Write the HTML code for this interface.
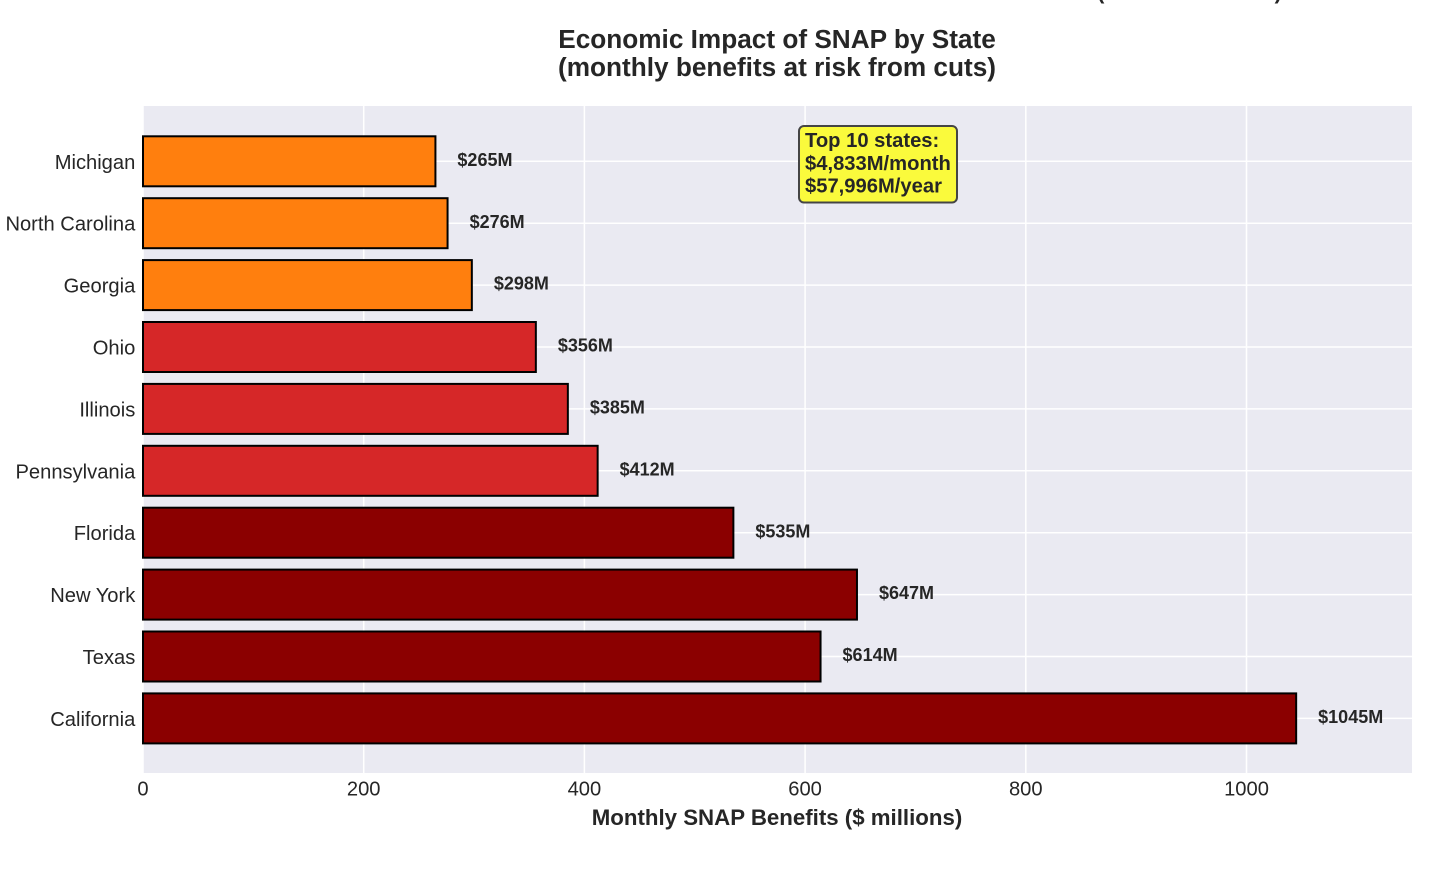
<!DOCTYPE html>
<html>
<head>
<meta charset="utf-8">
<style>
html,body{margin:0;padding:0;background:#fff;width:1456px;height:871px;overflow:hidden}
svg{display:block;font-family:"Liberation Sans",sans-serif}
</style>
</head>
<body>
<svg id="chart" width="1456" height="871" viewBox="0 0 1456 871" xmlns="http://www.w3.org/2000/svg">
<text x="1189.5" y="-1" text-anchor="middle" font-size="21.3" font-weight="bold" fill="#262626">(% of households)</text>
<text x="777" y="48" text-anchor="middle" font-size="26.2" font-weight="bold" fill="#262626">Economic Impact of SNAP by State</text>
<text x="777" y="76" text-anchor="middle" font-size="26.2" font-weight="bold" fill="#262626">(monthly benefits at risk from cuts)</text>
<rect x="143" y="106" width="1269" height="667" fill="#eaeaf2"/>
<g id="grid"></g>
<g id="bars"></g>
<g id="labels"></g>
<g id="ticks"></g>
<g>
<rect x="799" y="126" width="158" height="76.5" rx="5" ry="5" fill="#fafa3c" stroke="#454545" stroke-width="2"/>
<text x="805" y="147" font-size="20.2" font-weight="bold" fill="#262626">Top 10 states:</text>
<text x="805" y="170" font-size="20.2" font-weight="bold" fill="#262626">$4,833M/month</text>
<text x="805" y="192.5" font-size="20.2" font-weight="bold" fill="#262626">$57,996M/year</text>
</g>
<text x="777" y="825" text-anchor="middle" font-size="22.25" font-weight="bold" fill="#262626">Monthly SNAP Benefits ($ millions)</text>
</svg>
<script>
const states = ["California","Texas","New York","Florida","Pennsylvania","Illinois","Ohio","Georgia","North Carolina","Michigan"];
const benefits = [1045,614,647,535,412,385,356,298,276,265];
const xTickValues = [0,200,400,600,800,1000];
const severityThresholds = [500,300];
const severityColors = ["#8b0000","#d62728","#ff7f0e"];

const NS = "http://www.w3.org/2000/svg";
const plotLeft = 143, plotRight = 1412, plotTop = 106, plotBottom = 773;
const pxPerUnit = 1.1035;
const firstCenter = 718.4, rowStep = 61.9, barHeight = 50;
const xScale = v => plotLeft + v * pxPerUnit;
const yScale = i => firstCenter - i * rowStep;
const colorFor = v => v > severityThresholds[0] ? severityColors[0] : v > severityThresholds[1] ? severityColors[1] : severityColors[2];
function make(tag, parent, attrs, txt){
  const el = document.createElementNS(NS, tag);
  for (const k in attrs) el.setAttribute(k, attrs[k]);
  if (txt !== undefined) el.textContent = txt;
  document.getElementById(parent).appendChild(el);
  return el;
}
xTickValues.forEach(t => {
  const line = make("line","grid",{x1:xScale(t),x2:xScale(t),y1:plotTop,y2:plotBottom,stroke:"#fff","stroke-width":1.5});
  
  
  const label = make("text","ticks",{x:xScale(t),y:795.5,"text-anchor":"middle","font-size":20.15,fill:"#262626"},String(t));
  
  
});
states.forEach((s,i) => {
  const y = yScale(i), v = benefits[i];
  const line = make("line","grid",{x1:plotLeft,x2:plotRight,y1:y,y2:y,stroke:"#fff","stroke-width":1.5});
  
  
  const bar = make("rect","bars",{x:plotLeft,y:y-barHeight/2,width:v*pxPerUnit,height:barHeight,fill:colorFor(v),stroke:"#000","stroke-width":2});
  
  
  const value = make("text","labels",{x:xScale(v)+22,y:y+4.6,"font-size":18,"font-weight":"bold",fill:"#262626"},"$"+v+"M");
  
  
  const cat = make("text","ticks",{x:135.3,y:y+7.5,"text-anchor":"end","font-size":20.15,fill:"#262626"},s);
  
  
});
</script>
</body>
</html>
